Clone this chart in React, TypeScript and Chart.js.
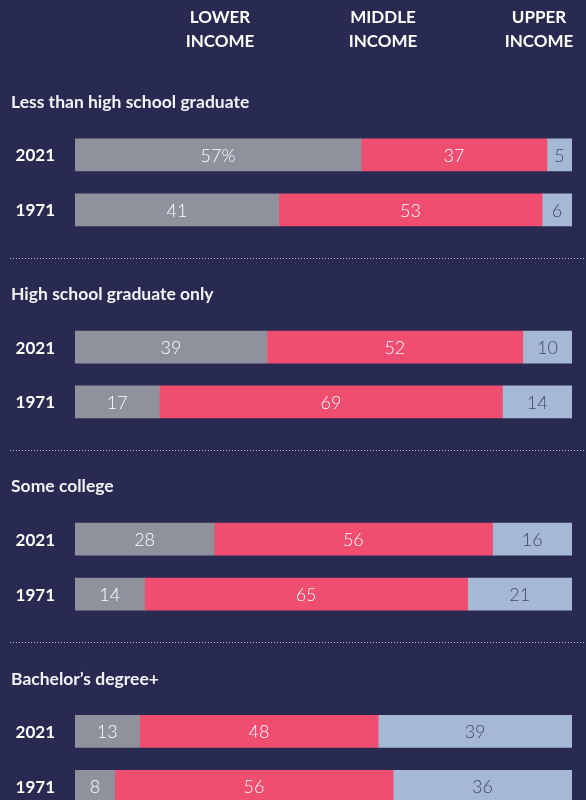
import React, { useEffect, useRef } from "react";
import { Chart, registerables } from "chart.js";

Chart.register(...registerables);

// ---- Data ----
const categories = [
  "Less than high school graduate",
  "High school graduate only",
  "Some college",
  "Bachelor’s degree+",
];
const years = ["2021", "1971"];
const lower2021 = [57, 39, 28, 13];
const middle2021 = [37, 52, 56, 48];
const upper2021 = [5, 10, 16, 39];
const lower1971 = [41, 17, 14, 8];
const middle1971 = [53, 69, 65, 56];
const upper1971 = [6, 14, 21, 36];
const tierHeaders = [
  ["LOWER", "INCOME"],
  ["MIDDLE", "INCOME"],
  ["UPPER", "INCOME"],
];

// ---- Style ----
const BG = "#292a51";
const GRAY = "#8f919d";
const PINK = "#f04e71";
const BLUE = "#a6b9d4";
const DARK_TEXT = "#3e4a6c";
const FONT = "Lato, 'Open Sans', sans-serif";

const SLOTS = 7; // slots per group
const ROW_SLOT = [2, 4]; // slot index of 2021 and 1971 rows inside a group
const UNIT = 27.45;
const TOP = 100;
const CANVAS_W = 586;
const CANVAS_H = 850;

const nSlots = categories.length * SLOTS;
const labels: string[] = [];
for (let g = 0; g < categories.length; g++) {
  for (let s = 0; s < SLOTS; s++) {
    const r = ROW_SLOT.indexOf(s);
    labels.push(r >= 0 ? years[r] : "");
  }
}

const byYear = {
  lower: [lower2021, lower1971],
  middle: [middle2021, middle1971],
  upper: [upper2021, upper1971],
};

function series(key: "lower" | "middle" | "upper") {
  const vals: (number | null)[] = [];
  const raw: (number | null)[] = [];
  for (let g = 0; g < categories.length; g++) {
    for (let s = 0; s < SLOTS; s++) {
      const r = ROW_SLOT.indexOf(s);
      if (r < 0) {
        vals.push(null);
        raw.push(null);
      } else {
        const sum = byYear.lower[r][g] + byYear.middle[r][g] + byYear.upper[r][g];
        const v = byYear[key][r][g];
        vals.push((v / sum) * 100);
        raw.push(v);
      }
    }
  }
  return { vals, raw };
}

export default function App() {
  const ref = useRef<HTMLCanvasElement | null>(null);

  useEffect(() => {
    document.body.style.margin = "0";
    document.body.style.background = BG;
    const canvas = ref.current!;
    const lower = series("lower");
    const middle = series("middle");
    const upper = series("upper");
    const rawBy = [lower.raw, middle.raw, upper.raw];
    const labelColors = ["#ffffff", "#ffffff", DARK_TEXT];

    const plugin = {
      id: "decor",
      beforeDraw(chart: any) {
        const ctx = chart.ctx;
        ctx.save();
        ctx.fillStyle = BG;
        ctx.fillRect(0, 0, chart.width, chart.height);
        ctx.restore();
      },
      afterDraw(chart: any) {
        const ctx = chart.ctx;
        const yS = chart.scales.y;
        ctx.save();
        // headers
        ctx.fillStyle = "#ffffff";
        ctx.font = `bold 17px ${FONT}`;
        ctx.textAlign = "center";
        ctx.textBaseline = "middle";
        const hx = [220, 383, 539];
        tierHeaders.forEach((lines, i) => {
          lines.forEach((t, j) => ctx.fillText(t, hx[i], 18 + j * 23.5));
        });
        // group titles & separators
        ctx.textAlign = "left";
        categories.forEach((c, g) => {
          ctx.fillStyle = "#f2f2f7";
          ctx.font = `bold 17.5px ${FONT}`;
          ctx.fillText(c, 11, yS.getPixelForValue(g * SLOTS) + 2.5);
          if (g < categories.length - 1) {
            const y = Math.round(yS.getPixelForValue(g * SLOTS + 5.75)) + 0.5;
            ctx.strokeStyle = "rgba(225,227,240,0.8)";
            ctx.lineWidth = 1;
            ctx.setLineDash([1, 2]);
            ctx.beginPath();
            ctx.moveTo(10, y);
            ctx.lineTo(586, y);
            ctx.stroke();
            ctx.setLineDash([]);
          }
        });
        // year labels
        ctx.textAlign = "right";
        ctx.fillStyle = "#ffffff";
        ctx.font = `bold 17px ${FONT}`;
        labels.forEach((l, i) => {
          if (l) ctx.fillText(l, 55, yS.getPixelForValue(i) + 1);
        });
        // value labels
        ctx.textAlign = "center";
        ctx.font = `300 18px ${FONT}`;
        chart.data.datasets.forEach((ds: any, di: number) => {
          const meta = chart.getDatasetMeta(di);
          meta.data.forEach((el: any, i: number) => {
            const v = rawBy[di][i];
            if (v === null || v === undefined) return;
            const cx = (el.x + el.base) / 2;
            ctx.fillStyle = labelColors[di];
            const first = di === 0 && i === ROW_SLOT[0];
            ctx.fillText(first ? `${v}%` : `${v}`, cx, el.y + 1);
          });
        });
        ctx.restore();
      },
    };

    const chart = new Chart(canvas, {
      type: "bar",
      data: {
        labels,
        datasets: [
          { label: "Lower income", data: lower.vals, backgroundColor: GRAY },
          { label: "Middle income", data: middle.vals, backgroundColor: PINK },
          { label: "Upper income", data: upper.vals, backgroundColor: BLUE },
        ] as any,
      },
      options: {
        indexAxis: "y",
        responsive: false,
        animation: false,
        devicePixelRatio: 1,
        layout: {
          padding: {
            left: 75,
            right: 14,
            top: TOP,
            bottom: CANVAS_H - TOP - (nSlots - 1) * UNIT,
          },
        },
        datasets: {
          bar: { barThickness: 32, borderWidth: 0, borderSkipped: false } as any,
        },
        scales: {
          x: { stacked: true, min: 0, max: 100, display: false },
          y: { stacked: true, offset: false, display: false },
        },
        plugins: {
          legend: { display: false },
          tooltip: { enabled: false },
        },
      } as any,
      plugins: [plugin],
    });
    return () => chart.destroy();
  }, []);

  return (
    <div style={{ width: CANVAS_W, height: 800, overflow: "hidden", background: BG }}>
      <canvas ref={ref} width={CANVAS_W} height={CANVAS_H} style={{ display: "block" }} />
    </div>
  );
}
